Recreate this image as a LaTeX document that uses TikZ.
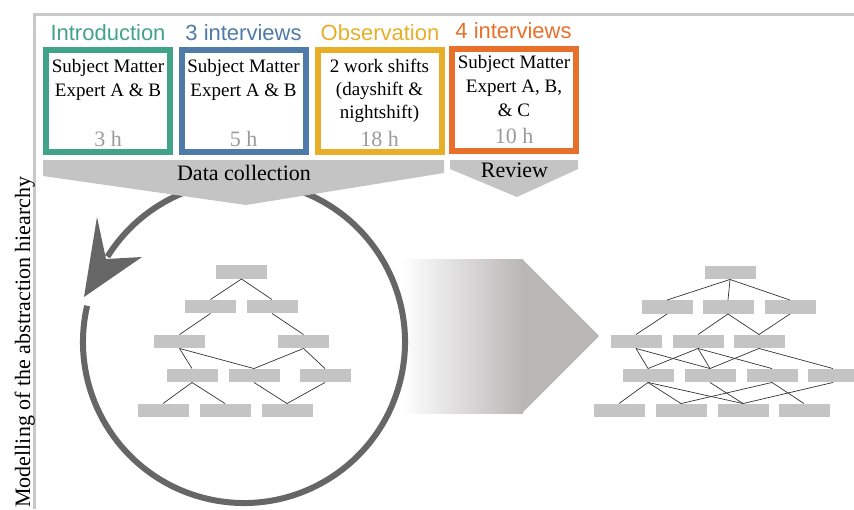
\documentclass[tikz,border=0pt]{standalone}
\usepackage{fontspec}
\setmainfont{Liberation Serif}
\newfontfamily\titlefont{Liberation Sans}
\definecolor{cgreen}{HTML}{41A387}
\definecolor{cblue}{HTML}{4F7BA9}
\definecolor{cyellow}{HTML}{E8AE27}
\definecolor{corange}{HTML}{E8702A}
\definecolor{bannergray}{HTML}{C4C4C4}
\definecolor{rectgray}{HTML}{C4C4C4}
\definecolor{circgray}{HTML}{666666}
\definecolor{hgray}{HTML}{9B9B9B}
\definecolor{framegray}{HTML}{C8C8C8}
\definecolor{arrowgray}{HTML}{B9B6B6}
\definecolor{edgegray}{HTML}{333333}
\begin{document}
\begin{tikzpicture}[x=1pt,y=-1pt,
  boxst/.style={draw=#1, line width=6pt, fill=white, minimum width=124pt, minimum height=102pt, inner sep=0pt},
  titlest/.style={text=#1, font=\titlefont\fontsize{22}{26}\selectfont, anchor=base, inner sep=0pt},
  bodyst/.style={font=\fontsize{19}{23}\selectfont, anchor=base, inner sep=0pt},
  hourst/.style={text=hgray, font=\fontsize{22}{26}\selectfont, anchor=base, inner sep=0pt},
  bannertext/.style={font=\fontsize{22}{26}\selectfont, anchor=base, inner sep=0pt},
  leaf/.style={fill=rectgray, minimum width=51pt, minimum height=13.5pt, inner sep=0pt},
  edge/.style={draw=edgegray, line width=0.7pt}
]
\useasboundingbox (0,0) rectangle (854,509);

% frame
\draw[framegray, line width=2.5pt] (34.5,509) -- (34.5,14.5) -- (854,14.5);
\node[rotate=90, anchor=base, inner sep=0pt, font=\fontsize{22}{26}\selectfont] (vlabel) at (30,342) {Modelling of the abstraction hiearchy};

% gradient arrow
\shade[left color=white, right color=arrowgray] (402,259) rectangle (523,413);
\fill[arrowgray] (522,259) -- (599,336) -- (522,413) -- cycle;

% circle with arrow
\coordinate (cc) at (244,342);
\draw[circgray, line width=6pt] (cc) ++(193:161) arc[start angle=193, end angle=-148, radius=161];
\fill[circgray] (84,297) -- (97,217) -- (106,259) -- (142,257) -- cycle;

% boxes
\node[boxst=cgreen] (b1) at (108,101) {};
\node[boxst=cblue] (b2) at (243.5,101) {};
\node[boxst=cyellow] (b3) at (379.5,101) {};
\node[boxst=corange] (b4) at (514,99.5) {};

\node[titlest=cgreen] (t1) at (108,40.5) {Introduction};
\node[titlest=cblue] (t2) at (243.5,40.5) {3 interviews};
\node[titlest=cyellow] (t3) at (380,40) {Observation};
\node[titlest=corange] (t4) at (513.5,38) {4 interviews};

\node[bodyst] (b1a) at (108,72.5) {Subject Matter};
\node[bodyst] (b1b) at (108,96) {Expert A \& B};
\node[hourst] (b1h) at (108,146) {3 h};

\node[bodyst] (b2a) at (243.5,72.5) {Subject Matter};
\node[bodyst] (b2b) at (243.5,96) {Expert A \& B};
\node[hourst] (b2h) at (243.5,146) {5 h};

\node[bodyst] (b3a) at (379.5,72) {2 work shifts};
\node[bodyst] (b3b) at (379.5,95) {(dayshift \&};
\node[bodyst] (b3c) at (379.5,118) {nightshift)};
\node[hourst] (b3h) at (379.5,146) {18 h};

\node[bodyst] (b4a) at (514,68.5) {Subject Matter};
\node[bodyst] (b4b) at (514,92.5) {Expert A, B,};
\node[bodyst] (b4c) at (514,116) {\& C};
\node[hourst] (b4h) at (514,143.5) {10 h};

% banners
\fill[bannergray] (43,160) -- (444,160) -- (444,173) -- (246,205) -- (43,176) -- cycle;
\node[bannertext] (dc) at (244,180) {Data collection};
\fill[bannergray] (450,160) -- (578,160) -- (578,169) -- (517,197) -- (450,169) -- cycle;
\node[bannertext] (rv) at (514.5,177.5) {Review};

% left tree
\node[leaf] (L1) at (241.5,272) {};
\node[leaf] (L2a) at (210.5,306.5) {};
\node[leaf] (L2b) at (272,306.5) {};
\node[leaf] (L3a) at (179.5,341.5) {};
\node[leaf] (L3b) at (303.5,341.5) {};
\node[leaf] (L4a) at (192,375.5) {};
\node[leaf] (L4b) at (254,375.5) {};
\node[leaf] (L4c) at (325,375.5) {};
\node[leaf] (L5a) at (163,410.5) {};
\node[leaf] (L5b) at (225,410.5) {};
\node[leaf] (L5c) at (287,410.5) {};
\foreach \a/\b in {L1/L2a,L1/L2b,L2a/L3a,L2b/L3b,L3a/L4a,L3a/L4b,L3b/L4b,L3b/L4c,L4a/L5a,L4a/L5b,L4b/L5c,L4c/L5c}
  \draw[edge] (\a.south) -- (\b.north);

% right tree
\node[leaf] (R1) at (730,272.5) {};
\node[leaf] (R2a) at (667,307) {};
\node[leaf] (R2b) at (728,307) {};
\node[leaf] (R2c) at (790,307) {};
\node[leaf] (R3a) at (636,341.5) {};
\node[leaf] (R3b) at (698,341.5) {};
\node[leaf] (R3c) at (759,341.5) {};
\node[leaf] (R4a) at (648,375.5) {};
\node[leaf] (R4b) at (710,375.5) {};
\node[leaf] (R4c) at (772,375.5) {};
\node[leaf] (R4d) at (833,375.5) {};
\node[leaf] (R5a) at (619,410.5) {};
\node[leaf] (R5b) at (681,410.5) {};
\node[leaf] (R5c) at (743,410.5) {};
\node[leaf] (R5d) at (804,410.5) {};
\foreach \a/\b in {R1/R2a,R1/R2b,R1/R2c,R2a/R3a,R2b/R3b,R2b/R3c,R2c/R3c,R3a/R4a,R3a/R4b,R3b/R4a,R3b/R4b,R3b/R4c,R3c/R4b,R3c/R4d,R4a/R5a,R4a/R5b,R4a/R5c,R4b/R5c,R4c/R5b,R4c/R5d,R4d/R5c}
  \draw[edge] (\a.south) -- (\b.north);
\end{tikzpicture}
\end{document}
